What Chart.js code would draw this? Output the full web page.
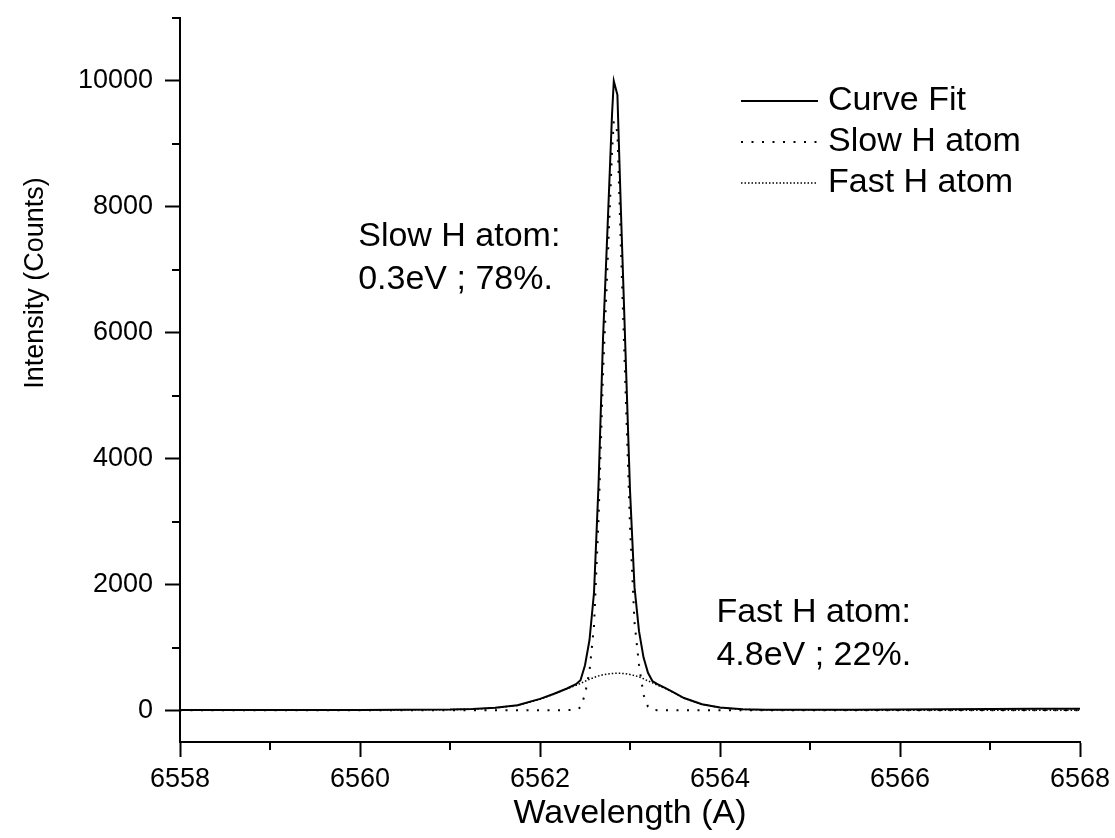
<!DOCTYPE html>
<html>
<head>
<meta charset="utf-8">
<script src="https://cdn.jsdelivr.net/npm/chart.js@4"></script>
<style>
  html, body { margin: 0; padding: 0; background: #fff; }
  #wrap { width: 1115px; height: 838px; }
</style>
</head>
<body>
<div id="wrap"><canvas id="lineChart" width="1115" height="838"></canvas></div>
<script>
// wavelength grid (A) and intensities (counts)
const wavelength = [
  6558, 6558.5, 6559, 6559.5, 6560, 6560.5, 6561, 6561.25, 6561.5, 6561.75,
  6562, 6562.15, 6562.3, 6562.4, 6562.45, 6562.5, 6562.55, 6562.6, 6562.65, 6562.7,
  6562.75, 6562.8, 6562.82, 6562.86, 6562.9, 6562.95, 6563, 6563.05, 6563.1, 6563.15,
  6563.2, 6563.25, 6563.3, 6563.4, 6563.5, 6563.6, 6563.8, 6564, 6564.25, 6564.5,
  6565, 6565.5, 6566, 6566.5, 6567, 6567.5, 6568
];
const curveFit = [
  8, 8, 8, 9, 10, 12, 16, 26, 45, 85,
  185, 262, 350, 418, 480, 720, 1120, 1870, 3570, 5900,
  7650, 9460, 10000, 9780, 7900, 5700, 3500, 1960, 1260, 845,
  600, 465, 425, 350, 275, 198, 100, 48, 22, 12,
  12, 14, 16, 20, 26, 30, 30
];
const slowAtom = [
  6, 6, 6, 6, 6, 6, 6, 6, 6, 6,
  6, 6, 6, 8, 50, 255, 625, 1345, 3020, 5330,
  7070, 8870, 9360, 9190, 7310, 5115, 2930, 1405, 725, 250,
  60, 8, 6, 6, 6, 6, 6, 6, 6, 6,
  6, 6, 6, 6, 6, 6, 6
];
const fastAtom = [
  6, 6, 6, 7, 8, 10, 14, 22, 40, 82,
  178, 258, 345, 400, 430, 465, 495, 525, 550, 568,
  580, 588, 590, 592, 590, 585, 572, 555, 535, 505,
  470, 440, 405, 345, 272, 196, 98, 45, 18, 9,
  7, 6, 6, 6, 6, 6, 6
];

const seriesNames = ["Curve Fit", "Slow H atom", "Fast H atom"];
const xMajorTicks = [6558, 6560, 6562, 6564, 6566, 6568];
const xMinorTicks = [6559, 6561, 6563, 6565, 6567];
const yMajorTicks = [0, 2000, 4000, 6000, 8000, 10000];
const yMinorTicks = [1000, 3000, 5000, 7000, 9000, 11000];

const FONT = "'Liberation Sans', Arial, sans-serif";

const toPoints = (vals) => wavelength.map((w, i) => ({ x: w, y: vals[i] }));

// minor ticks, axis titles, annotations and the in-plot legend
const extrasPlugin = {
  id: "extras",
  afterDraw(chart) {
    const ctx = chart.ctx;
    const xs = chart.scales.x;
    const ys = chart.scales.y;
    const area = chart.chartArea;
    ctx.save();
    ctx.strokeStyle = "#000";
    ctx.lineWidth = 2;

    xMinorTicks.forEach((v) => {
      const px = Math.round(xs.getPixelForValue(v));
      ctx.beginPath();
      ctx.moveTo(px, area.bottom);
      ctx.lineTo(px, area.bottom + 8);
      ctx.stroke();
    });
    yMinorTicks.forEach((v) => {
      const py = Math.round(ys.getPixelForValue(v));
      ctx.beginPath();
      ctx.moveTo(area.left, py);
      ctx.lineTo(area.left - 8, py);
      ctx.stroke();
    });

    ctx.fillStyle = "#000";
    // axis titles
    ctx.textAlign = "center";
    ctx.textBaseline = "middle";
    ctx.font = "34px " + FONT;
    ctx.fillText("Wavelength (A)", (area.left + area.right) / 2, 814);
    ctx.save();
    ctx.font = "27px " + FONT;
    ctx.translate(36, 283);
    ctx.rotate(-Math.PI / 2);
    ctx.fillText("Intensity (Counts)", 0, 0);
    ctx.restore();

    // peak annotations
    ctx.font = "34px " + FONT;
    ctx.textAlign = "left";
    ctx.fillText("Slow H atom:", xs.getPixelForValue(6559.98), ys.getPixelForValue(7530));
    ctx.fillText("0.3eV ; 78%.", xs.getPixelForValue(6559.98), ys.getPixelForValue(6850));
    ctx.fillText("Fast H atom:", xs.getPixelForValue(6563.96), ys.getPixelForValue(1560));
    ctx.fillText("4.8eV ; 22%.", xs.getPixelForValue(6563.96), ys.getPixelForValue(875));

    // legend
    chart.data.datasets.forEach((ds, i) => {
      const rowY = 101 + i * 41;
      ctx.save();
      ctx.strokeStyle = "#000";
      ctx.lineWidth = ds.borderWidth;
      ctx.setLineDash(ds.borderDash || []);
      ctx.beginPath();
      ctx.moveTo(741, rowY);
      ctx.lineTo(818, rowY);
      ctx.stroke();
      ctx.restore();
      ctx.font = "34px " + FONT;
      ctx.fillText(ds.label, 828, rowY);
    });
    ctx.restore();
  },
};

const ctx = document.getElementById("lineChart").getContext("2d");
new Chart(ctx, {
  type: "line",
  data: {
    datasets: [
      {
        label: seriesNames[0],
        data: toPoints(curveFit),
        borderColor: "#000",
        borderWidth: 2,
        pointRadius: 0,
        tension: 0,
        fill: false,
      },
      {
        label: seriesNames[1],
        data: toPoints(slowAtom),
        borderColor: "#000",
        borderWidth: 2,
        borderDash: [2, 8.5],
        pointRadius: 0,
        tension: 0,
        fill: false,
      },
      {
        label: seriesNames[2],
        data: toPoints(fastAtom),
        borderColor: "#000",
        borderWidth: 1.5,
        borderDash: [1.5, 2],
        pointRadius: 0,
        tension: 0,
        fill: false,
      },
    ],
  },
  options: {
    responsive: false,
    animation: false,
    devicePixelRatio: 1,
    layout: { padding: { left: 0, top: 18, right: 35, bottom: 0 } },
    plugins: {
      legend: { display: false },
      tooltip: { enabled: false },
    },
    scales: {
      x: {
        type: "linear",
        min: 6558,
        max: 6568,
        afterBuildTicks: (scale) => {
          scale.ticks = xMajorTicks.map((v) => ({ value: v }));
        },
        afterFit: (scale) => {
          scale.height = 96;
          scale.paddingLeft = 0;
          scale.paddingRight = 0;
        },
        grid: {
          drawOnChartArea: false,
          drawTicks: true,
          tickLength: 15,
          tickWidth: 2,
          tickColor: "#000",
        },
        border: { display: true, color: "#000", width: 2 },
        ticks: {
          color: "#000",
          font: { family: FONT, size: 27 },
          padding: 6,
          maxRotation: 0,
          callback: (v) => String(v),
        },
      },
      y: {
        min: -500,
        max: 11000,
        afterBuildTicks: (scale) => {
          scale.ticks = yMajorTicks.map((v) => ({ value: v }));
        },
        afterFit: (scale) => {
          scale.width = 180;
          scale.paddingTop = 0;
          scale.paddingBottom = 0;
        },
        grid: {
          drawOnChartArea: false,
          drawTicks: true,
          tickLength: 15,
          tickWidth: 2,
          tickColor: "#000",
        },
        border: { display: true, color: "#000", width: 2 },
        ticks: {
          color: "#000",
          font: { family: FONT, size: 27 },
          padding: 12,
          callback: (v) => String(v),
        },
      },
    },
  },
  plugins: [extrasPlugin],
});
</script>
</body>
</html>
